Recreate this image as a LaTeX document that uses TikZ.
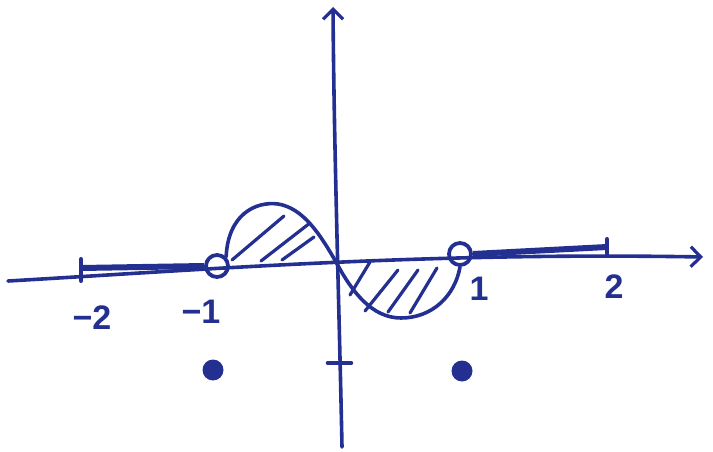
\documentclass[tikz,border=0pt]{standalone}
\usepackage{fontspec}
\setmainfont{Liberation Sans}
\usetikzlibrary{arrows.meta}
\definecolor{ink}{RGB}{36,48,145}
\begin{document}
\begin{tikzpicture}[x=1pt,y=-1pt,
  pen/.style={draw=ink,line width=3.6pt,line cap=round,line join=round},
  bar/.style={draw=ink,line width=6pt},
  hatch/.style={draw=ink,line width=3.2pt,line cap=round},
  hole/.style={circle,draw=ink,line width=3.8pt,minimum size=22pt,inner sep=0pt,fill=none},
  dot/.style={circle,fill=ink,minimum size=21pt,inner sep=0pt},
  lab/.style={text=ink,font=\fontsize{34}{38}\selectfont\bfseries,inner sep=0pt},
  tip/.style={-{Straight Barb[length=10pt,width=20pt,line width=3.2pt]}}]
\useasboundingbox (0,0) rectangle (713,452);
% axes
\coordinate (xl) at (8,281);
\coordinate (xr) at (703,257);
\coordinate (yb) at (342,447);
\coordinate (yt) at (333,7);
\draw[pen,tip] (xl) .. controls (200,270) and (420,252) .. (xr);
\draw[pen,tip] (yb) .. controls (339,300) and (334,150) .. (yt);
% y tick
\coordinate (ytl) at (328,363);
\coordinate (ytr) at (351,363);
\draw[pen,line width=4.6pt] (ytl) -- (ytr);
% holes and dots
\node[hole] (cm1) at (217,266) {};
\node[hole] (c1) at (460,254) {};
\node[dot] (dm1) at (213,370) {};
\node[dot] (d1) at (462,371) {};
% bars
\coordinate (bl) at (81,268);
\coordinate (br) at (607,247);
\draw[bar] (bl) -- (cm1.west);
\draw[bar] (c1.east) -- (br);
\draw[pen,line width=4pt] (81,259) -- (81,281);
\draw[pen,line width=4pt] (607,239) -- (607,254);
% curve
\draw[pen] (cm1.north east) .. controls (228,215) and (255,201) .. (278,204)
  .. controls (303,208) and (320,234) .. (336,262)
  .. controls (352,292) and (372,318) .. (401,318)
  .. controls (432,318) and (455,296) .. (c1.south);
% hatching
\draw[hatch] (232,260) -- (284,216);
\draw[hatch] (261,261) -- (310,223);
\draw[hatch] (282,260) -- (314,237);
\draw[hatch] (350,295) -- (370,262);
\draw[hatch] (365,311) -- (398,270);
\draw[hatch] (388,312) -- (418,270);
\draw[hatch] (410,313) -- (437,268);
% labels
\node[lab] (l2m) at (92,318) {−2};
\node[lab] (l1m) at (201,312) {−1};
\node[lab] (l1) at (479,289) {1};
\node[lab] (l2) at (614,287) {2};
\end{tikzpicture}
\end{document}
